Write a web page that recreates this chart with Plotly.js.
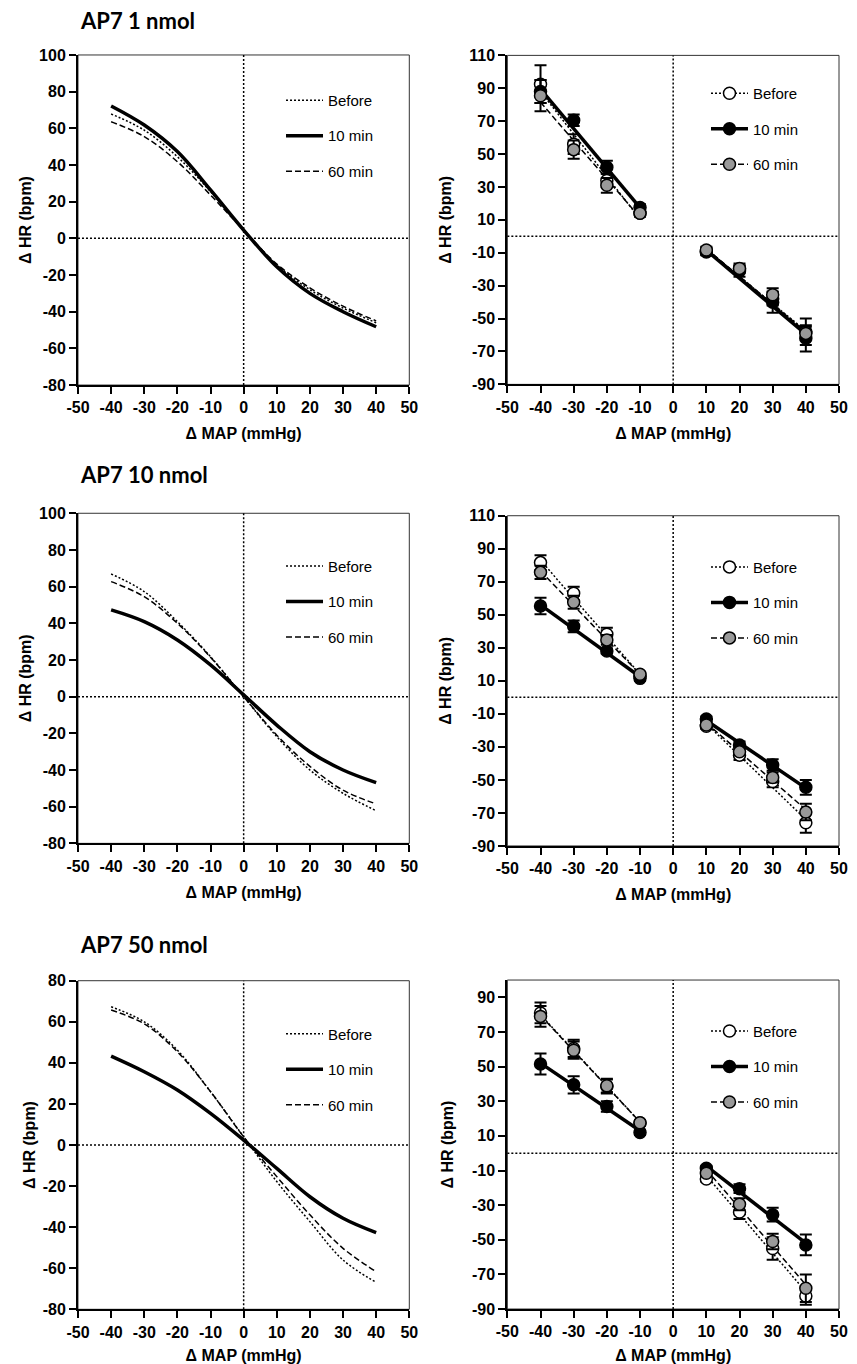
<!DOCTYPE html>
<html><head><meta charset="utf-8">
<script src="https://cdn.plot.ly/plotly-3.0.1.min.js"></script>
<style>html,body{margin:0;padding:0;background:#fff}#chart{width:857px;height:1364px}</style>
</head><body><div id="chart"></div>
<script>
// ---------------- data ----------------
const seriesNames = ['Before', '10 min', '60 min'];
const panelTitles = ['AP7 1 nmol', 'AP7 10 nmol', 'AP7 50 nmol'];
const xLabel = '\u0394 MAP (mmHg)';
const yLabel = '\u0394 HR (bpm)';

// Left panels: fitted baroreflex curves (read at 10 mmHg steps)
const curveX = [-40, -30, -20, -10, 0, 10, 20, 30, 40];
const c1Before = [67.8, 59.0, 44.5, 25.5, 4.5, -14.5, -28.0, -38.0, -46.0];
const c1Min10  = [72.2, 61.8, 47.3, 26.4, 4.5, -15.5, -30.0, -40.0, -48.2];
const c1Min60  = [63.6, 55.5, 41.8, 23.6, 4.5, -14.0, -27.0, -37.0, -45.0];
const c2Before = [66.9, 57.3, 40.9, 21.8, 0.0, -21.8, -40.0, -52.7, -62.2];
const c2Min10  = [47.3, 40.9, 30.9, 17.3, 1.0, -15.5, -30.0, -40.0, -46.9];
const c2Min60  = [62.7, 54.5, 40.0, 21.5, 0.0, -21.0, -38.0, -51.0, -58.5];
const c3Before = [67.3, 60.0, 46.2, 26.0, 4.0, -17.8, -37.3, -56.0, -66.9];
const c3Min10  = [43.3, 35.7, 26.8, 15.4, 2.4, -11.4, -25.2, -35.7, -42.7];
const c3Min60  = [65.7, 59.0, 45.4, 26.0, 4.0, -15.4, -34.0, -50.3, -61.7];

// Right panels: mean +/- SEM points
const pointX = [-40, -30, -20, -10, 10, 20, 30, 40];
const p1Before = [92.5, 56.0, 34.0, 14.0, -9.0, -20.0, -38.0, -58.0];
const p1BeforeErr = [11.5, 6.0, 4.0, 2.0, 2.0, 2.0, 4.0, 8.0];
const p1Min10 = [88.0, 70.5, 42.0, 17.5, -9.5, -21.0, -40.0, -62.0];
const p1Min10Err = [7.0, 3.5, 4.0, 2.0, 2.0, 3.5, 6.5, 8.0];
const p1Min60 = [85.5, 52.7, 31.0, 14.0, -8.3, -19.5, -35.5, -59.0];
const p1Min60Err = [9.5, 5.5, 4.5, 2.0, 2.0, 3.0, 4.0, 4.0];

const p2Before = [81.6, 63.0, 38.2, 13.0, -17.5, -35.0, -51.0, -76.0];
const p2BeforeErr = [4.5, 4.0, 4.0, 1.5, 1.5, 3.0, 3.5, 6.0];
const p2Min10 = [55.3, 43.0, 28.1, 11.5, -13.1, -28.8, -41.0, -54.5];
const p2Min10Err = [5.0, 3.5, 1.5, 1.5, 1.5, 2.0, 3.5, 4.5];
const p2Min60 = [75.7, 57.6, 34.8, 14.0, -16.7, -33.0, -48.5, -69.5];
const p2Min60Err = [4.0, 4.0, 3.0, 1.5, 1.5, 2.0, 3.0, 5.0];

const p3Before = [81.0, 60.5, 38.5, 17.5, -14.9, -34.0, -55.0, -82.5];
const p3BeforeErr = [6.0, 5.0, 4.0, 1.5, 1.5, 4.0, 6.5, 5.0];
const p3Min10 = [51.5, 39.5, 27.0, 12.0, -8.7, -20.5, -35.5, -53.0];
const p3Min10Err = [6.0, 5.0, 3.0, 1.5, 1.5, 2.5, 4.0, 6.0];
const p3Min60 = [79.0, 59.5, 39.0, 17.6, -11.6, -29.5, -51.0, -78.0];
const p3Min60Err = [6.0, 5.0, 4.0, 1.5, 1.5, 3.5, 4.5, 8.0];

// Right panels: linear regression lines (end values)
const fitXLeft = [-40, -10];
const fitXRight = [10, 40];
const f1BeforeL = [88.0, 10.5],  f1BeforeR = [-8.0, -57.5];
const f1Min10L  = [89.5, 17.5],  f1Min10R  = [-8.5, -59.5];
const f1Min60L  = [81.5, 11.5],  f1Min60R  = [-7.5, -58.0];
const f2BeforeL = [83.0, 14.0],  f2BeforeR = [-16.0, -74.0];
const f2Min10L  = [56.0, 12.5],  f2Min10R  = [-14.0, -55.0];
const f2Min60L  = [76.5, 14.0],  f2Min60R  = [-15.5, -68.0];
const f3BeforeL = [80.0, 18.0],  f3BeforeR = [-13.0, -80.0];
const f3Min10L  = [52.0, 13.0],  f3Min10R  = [-7.5, -52.0];
const f3Min60L  = [79.5, 18.0],  f3Min60R  = [-9.5, -76.0];

// axis ticks and tick labels
const xTicks = [-50, -40, -30, -20, -10, 0, 10, 20, 30, 40, 50];
const xTickText = ['-50', '-40', '-30', '-20', '-10', '0', '10', '20', '30', '40', '50'];
const yTicksLeftA = [-80, -60, -40, -20, 0, 20, 40, 60, 80, 100];
const yTickTextLeftA = ['-80', '-60', '-40', '-20', '0', '20', '40', '60', '80', '100'];
const yTicksLeftB = [-80, -60, -40, -20, 0, 20, 40, 60, 80];
const yTickTextLeftB = ['-80', '-60', '-40', '-20', '0', '20', '40', '60', '80'];
const yTicksRightA = [-90, -70, -50, -30, -10, 10, 30, 50, 70, 90, 110];
const yTickTextRightA = ['-90', '-70', '-50', '-30', '-10', '10', '30', '50', '70', '90', '110'];
const yTicksRightB = [-90, -70, -50, -30, -10, 10, 30, 50, 70, 90];
const yTickTextRightB = ['-90', '-70', '-50', '-30', '-10', '10', '30', '50', '70', '90'];

// ---------------- styles ----------------
const BOLD = {family: 'Liberation Sans, Arial, sans-serif', size: 16, color: '#000', weight: 700};
const LEGFONT = {family: 'Liberation Sans Narrow, Arial Narrow, Liberation Sans, sans-serif', size: 15, color: '#000'};
const lineStyles = [
  {color: '#000', width: 1.5, dash: '2px,2px'},
  {color: '#000', width: 3.5, dash: 'solid'},
  {color: '#000', width: 1.5, dash: '6px,3px'}
];
const markerStyles = [
  {symbol: 'circle', size: 12, color: '#fff', line: {color: '#000', width: 1.5}},
  {symbol: 'circle', size: 12, color: '#000', line: {color: '#000', width: 1.5}},
  {symbol: 'circle', size: 12, color: '#999', line: {color: '#000', width: 1.5}}
];

// domains
const xDomL = [0.0910, 0.4776], xDomR = [0.5920, 0.9790];
const yDoms = [
  [[0.7177, 0.9597], [0.7182, 0.9594]],
  [[0.3817, 0.6237], [0.3798, 0.6219]],
  [[0.0401, 0.2810], [0.0403, 0.2815]]
];
const legendPos = [
  [[0.3279, 0.9385], [0.8238, 0.9436]],
  [[0.3279, 0.5970], [0.8238, 0.5963]],
  [[0.3279, 0.2541], [0.8238, 0.2561]]
];
const titleY = [0.9853, 0.6518, 0.3072];

const curves = [
  [c1Before, c1Min10, c1Min60],
  [c2Before, c2Min10, c2Min60],
  [c3Before, c3Min10, c3Min60]
];
const points = [
  [[p1Before, p1BeforeErr], [p1Min10, p1Min10Err], [p1Min60, p1Min60Err]],
  [[p2Before, p2BeforeErr], [p2Min10, p2Min10Err], [p2Min60, p2Min60Err]],
  [[p3Before, p3BeforeErr], [p3Min10, p3Min10Err], [p3Min60, p3Min60Err]]
];
const fits = [
  [[f1BeforeL, f1BeforeR], [f1Min10L, f1Min10R], [f1Min60L, f1Min60R]],
  [[f2BeforeL, f2BeforeR], [f2Min10L, f2Min10R], [f2Min60L, f2Min60R]],
  [[f3BeforeL, f3BeforeR], [f3Min10L, f3Min10R], [f3Min60L, f3Min60R]]
];

const traces = [];
const layout = {
  width: 857, height: 1364,
  margin: {l: 0, r: 0, t: 0, b: 0},
  paper_bgcolor: '#fff', plot_bgcolor: '#fff',
  showlegend: true,
  shapes: [], annotations: []
};

function axisBase(range, tickvals, ticktext) {
  return {
    range: range, tickmode: 'array', tickvals: tickvals, ticktext: ticktext,
    ticks: 'outside', ticklen: 7, tickwidth: 2, tickcolor: '#000',
    showline: true, linewidth: 2, linecolor: '#000',
    showgrid: false, zeroline: false, tickfont: BOLD, fixedrange: true
  };
}

for (let r = 0; r < 3; r++) {
  for (let c = 0; c < 2; c++) {
    const idx = r * 2 + c + 1;
    const xa = 'x' + (idx === 1 ? '' : idx), ya = 'y' + (idx === 1 ? '' : idx);
    const xk = 'xaxis' + (idx === 1 ? '' : idx), yk = 'yaxis' + (idx === 1 ? '' : idx);
    const lg = 'legend' + (idx === 1 ? '' : idx);

    const xax = axisBase([-50, 50], xTicks, xTickText);
    xax.domain = c === 0 ? xDomL : xDomR;
    xax.anchor = ya;
    xax.title = {text: xLabel, font: BOLD, standoff: 13};
    layout[xk] = xax;

    let yr, yt, ytt;
    if (c === 0) {
      yr = r === 2 ? [-80, 80] : [-80, 100];
      yt = r === 2 ? yTicksLeftB : yTicksLeftA;
      ytt = r === 2 ? yTickTextLeftB : yTickTextLeftA;
    } else {
      yr = r === 2 ? [-90, 100] : [-90, 110];
      yt = r === 2 ? yTicksRightB : yTicksRightA;
      ytt = r === 2 ? yTickTextRightB : yTickTextRightA;
    }
    const yax = axisBase(yr, yt, ytt);
    yax.domain = yDoms[r][c];
    yax.anchor = xa;
    yax.title = {text: yLabel, font: BOLD, standoff: c === 0 ? 3 : 14};
    layout[yk] = yax;

    // frame + zero reference lines
    layout.shapes.push({type: 'rect', xref: xa + ' domain', yref: ya + ' domain', x0: 0, x1: 1, y0: 0, y1: 1,
      line: {color: '#333', width: 1}, layer: 'below'});
    layout.shapes.push({type: 'line', xref: xa + ' domain', yref: ya, x0: 0, x1: 1, y0: 0, y1: 0,
      line: {color: '#000', width: 1.5, dash: '2px,2px'}, layer: 'below'});
    layout.shapes.push({type: 'line', xref: xa, yref: ya + ' domain', x0: 0, x1: 0, y0: 0, y1: 1,
      line: {color: '#000', width: 1.5, dash: '2px,2px'}, layer: 'below'});

    layout[lg] = {
      x: legendPos[r][c][0], y: legendPos[r][c][1], xanchor: 'left', yanchor: 'top',
      xref: 'paper', yref: 'paper',
      bgcolor: 'rgba(0,0,0,0)', borderwidth: 0, font: LEGFONT,
      traceorder: 'grouped', tracegroupgap: 13, itemwidth: 37, itemclick: false, itemdoubleclick: false
    };

    if (c === 0) {
      for (let s = 0; s < 3; s++) {
        traces.push({
          type: 'scatter', mode: 'lines', x: curveX, y: curves[r][s],
          xaxis: xa, yaxis: ya, name: seriesNames[s], legend: lg, legendgroup: lg + 's' + s,
          line: Object.assign({shape: 'spline', smoothing: 1}, lineStyles[s]),
          hoverinfo: 'skip'
        });
      }
    } else {
      // regression lines (carry the legend entries)
      for (let s = 0; s < 3; s++) {
        const fl = fits[r][s];
        traces.push({
          type: 'scatter', mode: 'lines+markers',
          x: fitXLeft.concat([null], fitXRight),
          y: fl[0].concat([null], fl[1]),
          xaxis: xa, yaxis: ya, name: seriesNames[s], legend: lg, legendgroup: lg + 's' + s,
          line: lineStyles[s], marker: markerStyles[s],
          selectedpoints: [], unselected: {marker: {opacity: 0}},
          connectgaps: false, hoverinfo: 'skip'
        });
      }
      // points with error bars
      for (let s = 0; s < 3; s++) {
        traces.push({
          type: 'scatter', mode: 'markers', x: pointX, y: points[r][s][0],
          xaxis: xa, yaxis: ya, name: seriesNames[s], showlegend: false, legend: lg,
          marker: markerStyles[s],
          error_y: {type: 'data', array: points[r][s][1], visible: true, color: '#000', thickness: 2, width: 6},
          hoverinfo: 'skip'
        });
      }
    }
  }
  layout.annotations.push({
    text: panelTitles[r], xref: 'paper', yref: 'paper', x: 0.0905, y: titleY[r],
    xanchor: 'left', yanchor: 'middle', showarrow: false,
    font: {family: 'Lato, Open Sans, sans-serif', size: 22, color: '#000', weight: 700}
  });
}

Plotly.newPlot('chart', traces, layout, {staticPlot: true, displayModeBar: false});
</script></body></html>
